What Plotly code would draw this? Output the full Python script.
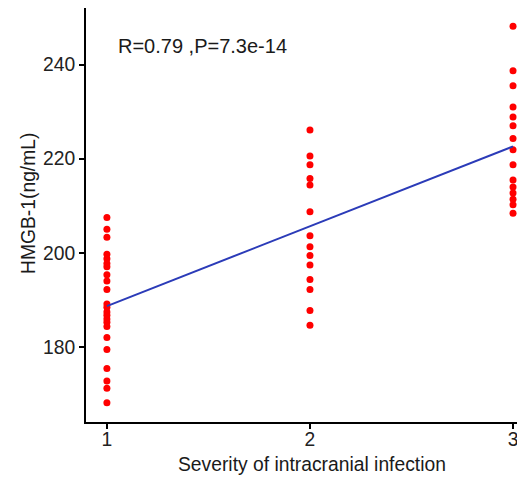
import numpy as np
import plotly.graph_objects as go

severity_1 = [207.5, 205.0, 203.3, 199.7, 198.7, 197.7, 197.0, 195.3, 194.0, 192.2, 189.1,
              188.4, 187.4, 186.7, 185.9, 185.2, 184.3, 182.0, 179.4, 175.4, 172.7, 171.2, 168.1]
severity_2 = [226.1, 220.6, 218.7, 215.8, 214.4, 208.7, 203.6, 201.3, 199.4, 197.4, 194.3,
              192.2, 187.7, 184.6]
severity_3 = [248.2, 238.7, 235.5, 231.0, 228.9, 227.0, 224.3, 221.9, 218.7, 215.5, 214.0,
              212.7, 211.4, 210.2, 208.4]
x_ticks = [1, 2, 3]
y_ticks = [180, 200, 220, 240]
annotation_text = "R=0.79 ,P=7.3e-14"

xs = [1] * len(severity_1) + [2] * len(severity_2) + [3] * len(severity_3)
ys = severity_1 + severity_2 + severity_3
slope, intercept = np.polyfit(xs, ys, 1)
line_x = [1, 3]
line_y = [intercept + slope * v for v in line_x]

# the page has an 8px body margin, so the figure is drawn offset by (8, 8)
OFF = 8
W, H = 525 - OFF, 479 - OFF
l, r, t, b = 86 - OFF, 0, 0, 57
pw, ph = W - l - r, H - t - b

font = "Liberation Sans, Arial, sans-serif"
fs = 19.3
fig = go.Figure()
fig.add_trace(go.Scatter(x=xs, y=ys, mode="markers",
                         marker=dict(color="#ff0000", size=7, line=dict(width=0)),
                         showlegend=False, cliponaxis=False))
fig.add_trace(go.Scatter(x=line_x, y=line_y, mode="lines",
                         line=dict(color="#2b3bb8", width=2), showlegend=False))


def px(x, y):
    return (x - OFF - l) / pw, (H - b - (y - OFF)) / ph


ann = []
for text, x, y, xa, size, ang in [
    (annotation_text, 116, 46, "left", 20, 0),
    ("Severity of intracranial infection", 312, 464, "center", fs, 0),
    ("HMGB-1(ng/mL)", 28, 204, "center", fs, -90),
]:
    ax, ay = px(x, y)
    ann.append(dict(text=text, x=ax, y=ay, xref="paper", yref="paper",
                    showarrow=False, xanchor=xa, yanchor="middle", textangle=ang,
                    font=dict(size=size, color="#1a1a1a")))

fig.update_layout(
    width=W, height=H,
    margin=dict(l=l, r=r, t=t, b=b, autoexpand=False),
    paper_bgcolor="white", plot_bgcolor="white",
    font=dict(family=font, size=fs, color="black"),
    xaxis=dict(range=[0.897, 3.059], tickvals=x_ticks, ticks="outside", ticklen=5,
               tickwidth=1.5, tickcolor="black", showline=True, linecolor="black",
               linewidth=2, showgrid=False, zeroline=False, ticklabelstandoff=-6,
               tickfont=dict(size=fs, color="#222")),
    yaxis=dict(range=[164, 252.06], tickvals=y_ticks, ticks="outside", ticklen=5,
               tickwidth=1.5, tickcolor="black", showline=True, linecolor="black",
               linewidth=2, showgrid=False, zeroline=False,
               tickfont=dict(size=fs, color="#222")),
    annotations=ann,
)

fig.write_html("out.html")
